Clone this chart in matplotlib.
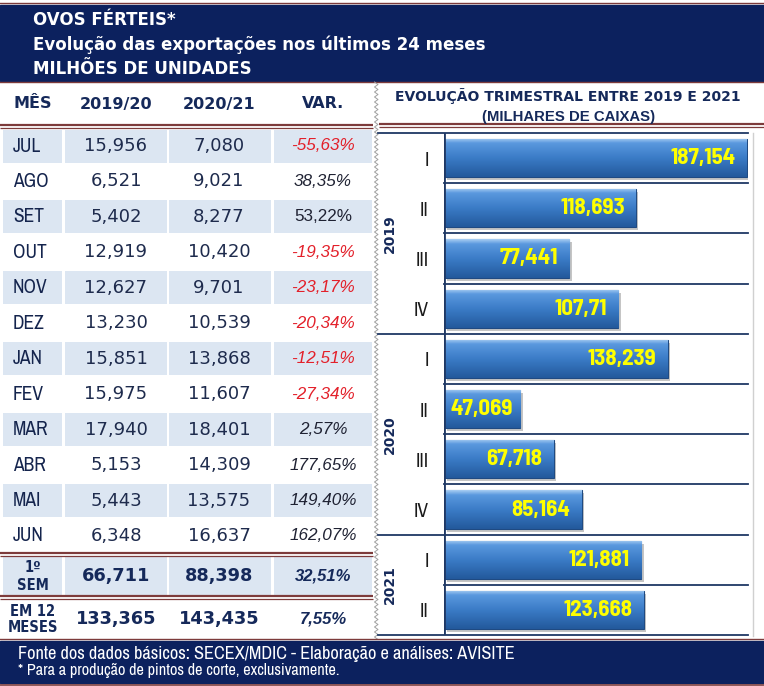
import numpy as np
import matplotlib
matplotlib.use("Agg")
import matplotlib.pyplot as plt
from matplotlib import font_manager, transforms
from matplotlib.patches import Rectangle
from matplotlib.colors import LinearSegmentedColormap

# ---- data ----
months = ['JUL', 'AGO', 'SET', 'OUT', 'NOV', 'DEZ',
          'JAN', 'FEV', 'MAR', 'ABR', 'MAI', 'JUN']
exp_1920 = [15.956, 6.521, 5.402, 12.919, 12.627, 13.230,
            15.851, 15.975, 17.940, 5.153, 5.443, 6.348]
exp_2021 = [7.080, 9.021, 8.277, 10.420, 9.701, 10.539,
            13.868, 11.607, 18.401, 14.309, 13.575, 16.637]
var_pct = [-55.63, 38.35, 53.22, -19.35, -23.17, -20.34,
           -12.51, -27.34, 2.57, 177.65, 149.40, 162.07]
sem1 = [66.711, 88.398, 32.51]
m12 = [133.365, 143.435, 7.55]

years = ['2019', '2020', '2021']
quarters = ['I', 'II', 'III', 'IV', 'I', 'II', 'III', 'IV', 'I', 'II']
quarter_year = [0, 0, 0, 0, 1, 1, 1, 1, 2, 2]
boxes = [187.154, 118.693, 77.441, 107.71,
         138.239, 47.069, 67.718, 85.164,
         121.881, 123.668]

NAVY = '#0c215e'
TXT_NAVY = '#15295a'
BROWN = '#7d3b3b'
LIGHT = '#dce6f2'
RED = '#e3202a'

names = {f.name for f in font_manager.fontManager.ttflist}
if 'Liberation Sans Narrow' in names:
    NARROW = NARROW_B = 'Liberation Sans Narrow'
else:
    NARROW = 'Archivo Narrow' if 'Archivo Narrow' in names else 'DejaVu Sans'
    NARROW_B = 'Barlow Semi Condensed' if 'Barlow Semi Condensed' in names else 'DejaVu Sans'


def br(v, nd=3):
    return f"{v:,.{nd}f}".replace(',', 'X').replace('.', ',').replace('X', '.')


def pct(v):
    return f"{v:.2f}%".replace('.', ',')


fig = plt.figure(figsize=(7.64, 6.86), dpi=100)
bg = fig.add_axes([0, 0, 1, 1])
bg.set_xlim(0, 764)
bg.set_ylim(686, 0)
bg.axis('off')


def double_line(y, x0, x1):
    bg.plot([x0, x1], [y, y], color=BROWN, lw=1.6, solid_capstyle='butt')
    bg.plot([x0, x1], [y + 3, y + 3], color=BROWN, lw=0.9, solid_capstyle='butt')


# header block
bg.add_patch(Rectangle((0, 5), 764, 76, color=NAVY))
bg.plot([0, 764], [3, 3], color=BROWN, lw=1)
bg.plot([0, 764], [82, 82], color=BROWN, lw=1)
hdr = dict(color='white', fontsize=12, fontweight='bold', family='DejaVu Sans', va='center')
bg.text(33, 20, 'OVOS FÉRTEIS*', **hdr)
bg.text(33, 45, 'Evolução das exportações nos últimos 24 meses', **hdr)
bg.text(33, 69, 'MILHÕES DE UNIDADES', **hdr)

# table
col_l = [3, 65, 169, 274]
col_r = [62, 167, 271, 372]
th = dict(color=TXT_NAVY, fontsize=11.5, fontweight='bold', family='DejaVu Sans',
          va='center', ha='center')
for c, lab in zip([33, 116, 219, 323], ['MÊS', '2019/20', '2020/21', 'VAR.']):
    bg.text(c, 104, lab, **th)
double_line(125, 0, 373)

y0, pitch = 146, 35.45
val_kw = dict(family='DejaVu Sans', fontsize=13, color='#1e2b4d', ha='center', va='center')
for i, m in enumerate(months):
    yc = y0 + i * pitch
    if i % 2 == 0:
        for a, b in zip(col_l, col_r):
            bg.add_patch(Rectangle((a, yc - 16.5), b - a, 33, color=LIGHT, lw=0))
    bg.text(13, yc, m, family=NARROW, fontsize=14, color='#14244d', va='center')
    bg.text(116, yc, br(exp_1920[i]), **val_kw)
    bg.text(219, yc, br(exp_2021[i]), **val_kw)
    v = var_pct[i]
    style = 'normal' if m == 'SET' else 'italic'
    bg.text(323, yc, pct(v), family='Liberation Sans', style=style, fontsize=12.3,
            color=RED if v < 0 else '#1f2233', ha='center', va='center')

double_line(553, 0, 373)
for a, b in zip(col_l, col_r):
    bg.add_patch(Rectangle((a, 557), b - a, 38, color=LIGHT, lw=0))
double_line(596, 0, 373)

lab_kw = dict(family='DejaVu Sans', fontstretch='condensed', fontsize=10.5,
              fontweight='bold', color=TXT_NAVY, ha='center', va='center')
bg.text(33, 568, '1º', **lab_kw)
bg.text(33, 585, 'SEM', **lab_kw)
bg.text(33, 611, 'EM 12', **lab_kw)
bg.text(33, 628, 'MESES', **lab_kw)
tot_kw = dict(family='DejaVu Sans', fontsize=12.8, fontweight='bold', color=TXT_NAVY,
              ha='center', va='center')
for row, yc in [(sem1, 576), (m12, 619)]:
    bg.text(116, yc, br(row[0]), **tot_kw)
    bg.text(219, yc, br(row[1]), **tot_kw)
    bg.text(323, yc, pct(row[2]), family='Liberation Sans', style='italic',
            fontweight='bold', fontsize=12, color=TXT_NAVY, ha='center', va='center')

# zigzag divider
zy = np.arange(82, 641, 2.5)
zx = np.where(np.arange(len(zy)) % 2 == 0, 374.5, 378)
bg.plot(zx, zy, color='#a0a0a0', lw=0.7)

# right panel title
bg.text(568, 96, 'EVOLUÇÃO TRIMESTRAL ENTRE 2019 E 2021', color=TXT_NAVY,
        fontsize=10, fontweight='bold', family='DejaVu Sans', ha='center', va='center')
bg.text(569, 117, '(MILHARES DE CAIXAS)', color=TXT_NAVY, fontsize=10.7,
        fontweight='bold', family='Liberation Sans', ha='center', va='center')
double_line(124, 379, 764)
bg.plot([753, 753], [133, 636], color='#d0d0d0', lw=1)

# footer
bg.plot([0, 764], [639, 639], color=BROWN, lw=1)
bg.add_patch(Rectangle((0, 641), 764, 42, color=NAVY))
bg.plot([0, 764], [684.5, 684.5], color=BROWN, lw=1.2)
bg.text(18, 654, 'Fonte dos dados básicos: SECEX/MDIC - Elaboração e análises: AVISITE',
        family=NARROW, fontsize=13.2, color='white', va='center')
bg.text(18, 671, '* Para a produção de pintos de corte, exclusivamente.',
        family=NARROW, fontsize=11.7, color='white', va='center')

# ---- bar chart ----
top, bottom, left, right = 133, 635, 444, 748
ax = fig.add_axes([left / 764, 1 - bottom / 686, (right - left) / 764, (bottom - top) / 686])
ax.set_facecolor('none')
for s in ax.spines.values():
    s.set_visible(False)

grad_cmap = LinearSegmentedColormap.from_list(
    'bar', [(0, '#a6ccf2'), (0.12, '#5a98de'), (0.5, '#3b7cc7'), (1, '#23599c')])
grad = np.linspace(0, 1, 64).reshape(-1, 1)
h = 0.76
ypos = np.arange(len(boxes))
shadow_tr = transforms.offset_copy(ax.transData, fig=fig, x=2.5, y=-3, units='dots')
for i, v in enumerate(boxes):
    ax.add_patch(Rectangle((0, i - h / 2), v, h, transform=shadow_tr,
                           color='#7f7f7f', alpha=0.45, lw=0, zorder=1))
bars = ax.barh(ypos, boxes, height=h, color='#3b7cc7', edgecolor='#1f4a82',
               lw=0.8, zorder=2)
for i, (b, v) in enumerate(zip(bars, boxes)):
    im = ax.imshow(grad, extent=[0, v, i + h / 2, i - h / 2], aspect='auto',
                   cmap=grad_cmap, zorder=2.5, interpolation='bilinear')
    im.set_clip_path(b)
    label = f"{v:.3f}".rstrip('0').replace('.', ',')
    lab_style = dict(ha='center', va='center', color='#ffff00', family=NARROW_B,
                     fontweight='bold', fontsize=16.5, zorder=4)
    if v < 55:
        ax.text(v / 2, i, label, **lab_style)
    else:
        lab_style['ha'] = 'right'
        ax.annotate(label, (v, i), xytext=(-8, 0), textcoords='offset points',
                    **lab_style)
ax.set_xlim(0, 188)
ax.set_ylim(len(boxes) - 0.5, -0.5)
ax.set_xticks([])
ax.set_yticks(ypos)
ax.set_yticklabels(quarters, family=NARROW, fontsize=14, color='#1a1a1a')
ax.tick_params(axis='y', length=0, pad=11)
ax.axvline(0, color='#1f3864', lw=2, zorder=5)

ytr = ax.get_yaxis_transform()
breaks = [k for k in range(1, len(boxes)) if quarter_year[k] != quarter_year[k - 1]]
for k in range(len(boxes) + 1):
    xmin = -0.217 if (k in breaks or k in (0, len(boxes))) else 0
    ax.plot([xmin, 1], [k - 0.5, k - 0.5], transform=ytr, color='#1f3864',
            lw=1.3, clip_on=False, zorder=3)
for yi, yr in enumerate(years):
    idx = [k for k, q in enumerate(quarter_year) if q == yi]
    ax.text(-0.178, np.mean(idx), yr, transform=ytr, rotation=90, ha='center',
            va='center', color=TXT_NAVY, fontsize=10, fontweight='bold',
            family='DejaVu Sans')

fig.savefig('out.png', dpi=100)
